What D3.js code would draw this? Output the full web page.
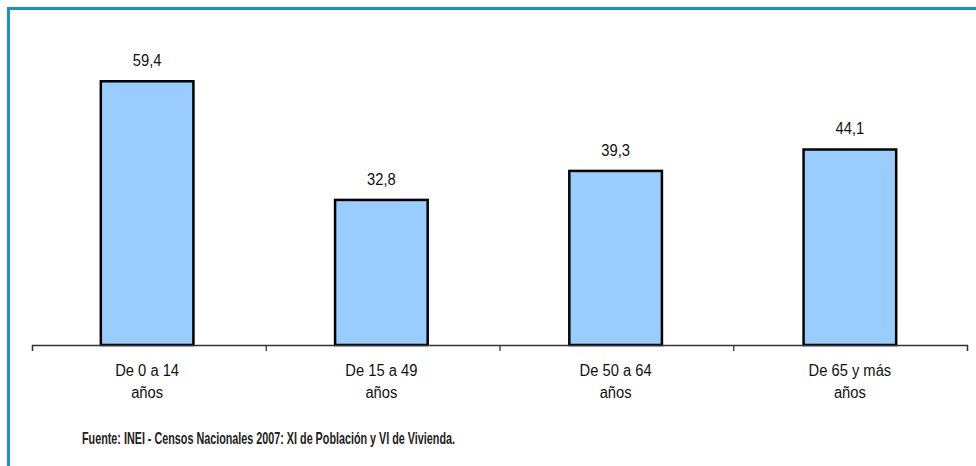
<!DOCTYPE html>
<html>
<head>
<meta charset="utf-8">
<script src="https://cdn.jsdelivr.net/npm/d3@7"></script>
<style>
  html, body { margin: 0; padding: 0; background: #fff; }
  svg { display: block; }
</style>
</head>
<body>
<svg id="chart" width="976" height="466"></svg>
<script>
const categories = ["De 0 a 14|años", "De 15 a 49|años", "De 50 a 64|años", "De 65 y más|años"];
const values = [59.4, 32.8, 39.3, 44.1];
const valueLabels = ["59,4", "32,8", "39,3", "44,1"];
const source = "Fuente: INEI - Censos Nacionales 2007: XI de Población y VI de Vivienda.";

const svg = d3.select("#chart");

// frame (right/bottom edges fall outside the view)
svg.append("rect")
  .attr("x", 8.5).attr("y", 8.5)
  .attr("width", 1100).attr("height", 1100)
  .attr("fill", "none")
  .attr("stroke", "#1a8fd6")
  .attr("stroke-width", 3);

const x = d3.scaleBand().domain(categories).range([30, 967]).paddingInner(0.594).paddingOuter(0.297);
const y = d3.scaleLinear().domain([0, 59.4]).range([345, 80]);

const g = svg.append("g");

g.selectAll("rect.bar").data(values).join("rect")
  .attr("class", "bar")
  .attr("x", (d, i) => x(categories[i]) + 1.25)
  .attr("y", d => y(d) + 1.25)
  .attr("width", x.bandwidth() - 2.5)
  .attr("height", d => y(0) - y(d) - 1.25)
  .attr("fill", "#99ccff")
  .attr("stroke", "#000")
  .attr("stroke-width", 2.5);

// axis
const axis = d3.axisBottom(d3.scaleLinear().domain([0, 4]).range([32, 967]))
  .ticks(4).tickSize(6).tickFormat("");
const ax = svg.append("g").attr("transform", `translate(0,${y(0)})`).call(axis);
ax.select(".domain").attr("stroke", "#333").attr("stroke-width", 1.3);
ax.selectAll(".tick line").attr("stroke", "#333").attr("stroke-width", 1.3);

function squeeze(sel, k) {
  sel.each(function() {
    const n = this.getComputedTextLength();
    d3.select(this).attr("textLength", n * k).attr("lengthAdjust", "spacingAndGlyphs");
  });
}

// value labels
g.selectAll("text.val").data(values).join("text")
  .attr("class", "val")
  .attr("x", (d, i) => x(categories[i]) + x.bandwidth() / 2)
  .attr("y", d => y(d) - 14)
  .attr("text-anchor", "middle")
  .attr("font-family", "Liberation Sans, Arial, sans-serif")
  .attr("font-size", 16)
  .attr("fill", "#111")
  .text((d, i) => valueLabels[i])
  .call(squeeze, 0.92);

// category labels
const cl = g.selectAll("text.cat").data(categories).join("text")
  .attr("class", "cat")
  .attr("text-anchor", "middle")
  .attr("font-family", "Liberation Sans, Arial, sans-serif")
  .attr("font-size", 16)
  .attr("fill", "#111");
cl.each(function(d) {
  const parts = d.split("|");
  const cx = x(d) + x.bandwidth() / 2;
  d3.select(this).selectAll("tspan").data(parts).join("tspan")
    .attr("x", cx)
    .attr("y", (p, j) => 376 + j * 22)
    .text(p => p)
    .call(squeeze, 0.92);
});

// source
svg.append("text")
  .attr("x", 82).attr("y", 444)
  .attr("font-family", "Liberation Sans Narrow, Arial Narrow, Liberation Sans, sans-serif")
  .attr("font-weight", "bold")
  .attr("font-size", 16.5)
  .attr("fill", "#222")
  .attr("textLength", 373)
  .attr("lengthAdjust", "spacingAndGlyphs")
  .text(source);
</script>
</body>
</html>
